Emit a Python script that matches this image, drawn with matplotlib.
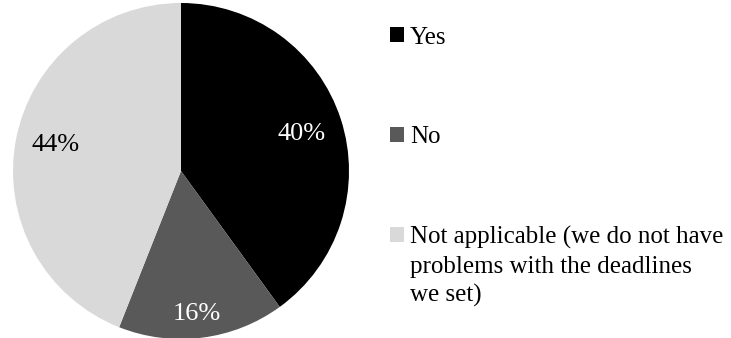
import matplotlib
matplotlib.use('Agg')
import matplotlib.pyplot as plt
from matplotlib.patches import Patch

labels = ['Yes', 'No', 'Not applicable (we do not have']
label_cont = ['problems with the deadlines', 'we set)']
values = [40, 16, 44]
colors = ['#000000', '#595959', '#d9d9d9']
text_colors = ['white', 'white', 'black']
# label anchor points (radius units, baseline), like Excel "best fit"
label_pos = [(0.72, 0.185), (0.095, -0.887), (-0.744, 0.119)]

plt.rcParams['font.family'] = ['Liberation Serif', 'DejaVu Serif']

fig = plt.figure(figsize=(7.31, 3.38), dpi=100, facecolor='white')
ax = fig.add_axes([13 / 731, -1 / 338, 336 / 731, 336 / 338])

wedges, texts, autotexts = ax.pie(values, colors=colors, startangle=90, counterclock=False,
                                  autopct='%d%%', radius=1.0,
                                  wedgeprops=dict(linewidth=0),
                                  textprops=dict(fontsize=19))
for t, c, p in zip(autotexts, text_colors, label_pos):
    t.set_color(c)
    t.set_position(p)
    t.set_va('baseline')
ax.set_xlim(-1, 1)
ax.set_ylim(-1, 1)
ax.set_aspect('equal')

handles = [Patch(facecolor=c, edgecolor='none') for c in colors]
leg = fig.legend(handles, labels, loc='upper left', bbox_to_anchor=(390 / 731, 1 - 26.5 / 338),
                 frameon=False, fontsize=18, labelspacing=3.1,
                 handlelength=0.56, handleheight=0.56, handletextpad=0.24,
                 borderpad=0, borderaxespad=0)

# wrapped lines of the last legend entry (legend has to be laid out first)
fig.canvas.draw()
last = leg.get_texts()[-1]
for i, line in enumerate(label_cont):
    ax.annotate(line, xy=(0, 0), xycoords=last, xytext=(0, -29 * (i + 1)),
                textcoords='offset pixels', fontsize=18, ha='left', va='bottom',
                annotation_clip=False)

fig.savefig('out.png', dpi=100, facecolor='white')
